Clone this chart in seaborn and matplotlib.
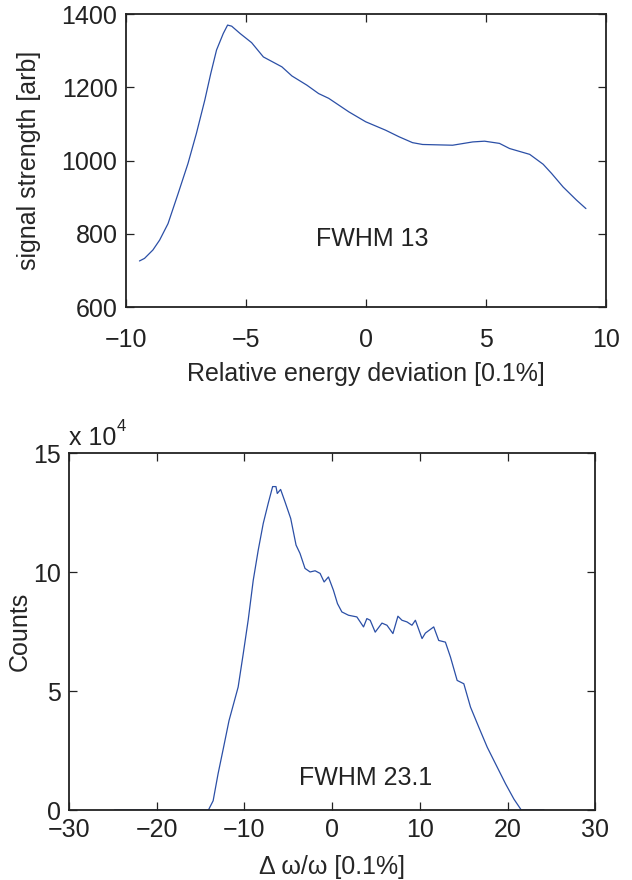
import matplotlib
matplotlib.use('Agg')
import matplotlib.pyplot as plt
import pandas as pd
import numpy as np
import seaborn as sns

# Curva superior: intensidad vs desviacion de energia
energy_dev = [-9.43, -9.22, -8.87, -8.59, -8.24, -7.82, -7.41, -7.06, -6.71, -6.46,
              -6.22, -5.94, -5.76, -5.59, -5.24, -4.76, -4.27, -3.50, -3.08, -2.46,
              -1.97, -1.55, -0.71, -0.01, 0.82, 1.38, 1.94, 2.36, 3.61, 4.45,
              4.94, 5.56, 5.98, 6.82, 7.38, 7.73, 8.21, 8.77, 9.16]
signal = [726, 733, 756, 783, 828, 910, 992, 1074, 1165, 1238,
          1302, 1347, 1370, 1367, 1347, 1322, 1283, 1256, 1231, 1206,
          1183, 1170, 1133, 1106, 1083, 1065, 1049, 1044, 1042, 1051,
          1053, 1047, 1033, 1017, 990, 965, 928, 892, 869]

# Curva inferior: cuentas (x 10^4) vs delta omega / omega
domega = [-24.8, -14.1, -13.56, -13.0, -12.37, -11.75, -10.71, -10.13, -9.56, -8.99,
          -8.42, -7.85, -7.28, -6.78, -6.4, -6.25, -5.87, -5.37, -4.72, -4.11,
          -3.66, -3.09, -2.51, -1.94, -1.37, -0.91, -0.42, 0.15, 0.61, 1.11,
          1.87, 2.82, 3.58, 3.96, 4.34, 4.91, 5.68, 6.25, 6.93, 7.5,
          7.96, 8.53, 9.1, 9.49, 10.25, 10.63, 11.58, 12.15, 12.91, 13.49,
          14.25, 15.01, 15.77, 16.72, 17.68, 18.82, 19.77, 20.72, 21.56, 24.15]
counts = [0, 0, 0.39, 1.52, 2.64, 3.76, 5.17, 6.57, 8.0, 9.66,
          10.93, 12.05, 12.9, 13.6, 13.6, 13.31, 13.48, 12.96, 12.26, 11.14,
          10.79, 10.16, 10.01, 10.06, 9.95, 9.59, 9.80, 9.24, 8.68, 8.33,
          8.19, 8.12, 7.70, 8.05, 7.98, 7.48, 7.86, 7.77, 7.42, 8.15,
          7.98, 7.91, 7.77, 7.98, 7.21, 7.44, 7.70, 7.13, 7.06, 6.43,
          5.45, 5.31, 4.33, 3.48, 2.64, 1.8, 1.10, 0.46, 0, 0]

df_top = pd.DataFrame({'x': energy_dev, 'y': signal})
df_bot = pd.DataFrame({'x': domega, 'y': counts})

sns.set_style('ticks')
plt.rcParams['font.family'] = ['Liberation Sans', 'DejaVu Sans']

line_color = '#2b4fa6'
txt_color = '#222222'
fs = 18

fig = plt.figure(figsize=(6.32, 8.80), dpi=100)
ax1 = fig.add_axes([0.199, 0.651, 0.760, 0.333])
ax2 = fig.add_axes([0.109, 0.0795, 0.833, 0.4054])

sns.lineplot(data=df_top, x='x', y='y', ax=ax1, color=line_color, linewidth=0.9)
sns.lineplot(data=df_bot, x='x', y='y', ax=ax2, color=line_color, linewidth=0.9)

for ax in (ax1, ax2):
    for s in ax.spines.values():
        s.set_visible(True)
        s.set_linewidth(1.3)
        s.set_color(txt_color)
    ax.tick_params(direction='in', length=6, width=0.9, top=True, right=True,
                   labelsize=fs, colors=txt_color, pad=6)

# panel superior
ax1.set_xlim(-10, 10)
ax1.set_ylim(600, 1400)
ax1.set_xticks([-10, -5, 0, 5, 10])
ax1.set_xticklabels(['\u221210', '\u22125', '0', '5', '10'])
ax1.set_yticks([600, 800, 1000, 1200, 1400])
ax1.tick_params(axis='x', pad=15)
ax1.set_xlabel('Relative energy deviation [0.1%]', fontsize=fs, labelpad=7)
ax1.set_ylabel('signal strength [arb]', fontsize=fs, labelpad=15)
ax1.text(0.26, 787, 'FWHM 13', fontsize=fs, ha='center', va='center', color=txt_color)

# panel inferior
ax2.set_xlim(-30, 30)
ax2.set_ylim(0, 15)
ax2.set_xticks([-30, -20, -10, 0, 10, 20, 30])
ax2.set_xticklabels(['\u221230', '\u221220', '\u221210', '0', '10', '20', '30'])
ax2.set_yticks([0, 5, 10, 15])
ax2.set_xlabel('\u0394 \u03c9/\u03c9 [0.1%]', fontsize=fs, labelpad=9)
ax2.set_ylabel('Counts', fontsize=fs, labelpad=1)
ax2.text(3.77, 1.33, 'FWHM 23.1', fontsize=fs, ha='center', va='center', color=txt_color)
ax2.annotate('x 10', xy=(0, 1), xycoords='axes fraction', xytext=(0, 6),
             textcoords='offset points', fontsize=fs, ha='left', va='baseline',
             color=txt_color)
ax2.annotate('4', xy=(0, 1), xycoords='axes fraction', xytext=(34.5, 16),
             textcoords='offset points', fontsize=12, ha='left', va='baseline',
             color=txt_color)

fig.savefig('out.png', dpi=100)
